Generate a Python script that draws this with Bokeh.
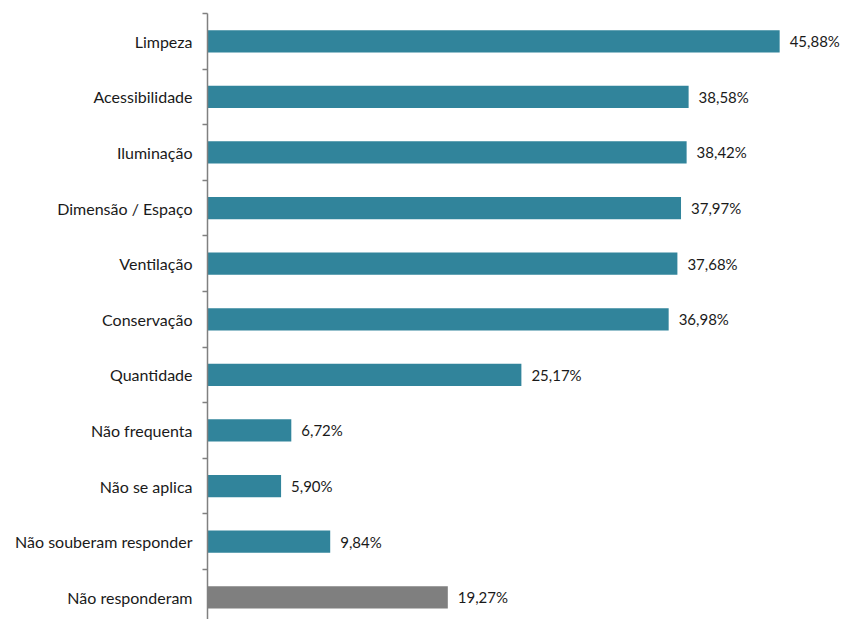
from bokeh.plotting import figure
from bokeh.models import ColumnDataSource, Range1d, FixedTicker, LabelSet
from bokeh.core.properties import value
from bokeh.embed import file_html
from bokeh.resources import INLINE

categories = ["Limpeza", "Acessibilidade", "Iluminação", "Dimensão / Espaço", "Ventilação",
              "Conservação", "Quantidade", "Não frequenta", "Não se aplica",
              "Não souberam responder", "Não responderam"]
values = [45.88, 38.58, 38.42, 37.97, 37.68, 36.98, 25.17, 6.72, 5.90, 9.84, 19.27]
colors = ["#31849B"] * 10 + ["#7F7F7F"]

pos = list(range(len(categories)))
labels = [f"{v:.2f}".replace(".", ",") + "%" for v in values]

src = ColumnDataSource(dict(y=pos, v=values, c=colors, lab=labels))

W, H = 845, 619
p = figure(width=W, height=H, output_backend="svg", toolbar_location=None,
           x_range=Range1d(0, 51.16), y_range=Range1d(10.4, -0.5),
           min_border_left=207, min_border_right=0, min_border_top=13, min_border_bottom=0)
p.outline_line_color = None
p.xgrid.visible = False
p.ygrid.visible = False
p.xaxis.visible = False

p.hbar(y="y", right="v", left=0, height=0.4, color="c", line_color=None, source=src)

p.add_layout(LabelSet(x="v", y="y", text="lab", source=src, x_offset=10, y_offset=0,
                      text_baseline="middle", text_font=value("Lato"), text_font_size="15px",
                      text_color="#1a1a1a"))

ax = p.yaxis[0]
ax.ticker = FixedTicker(ticks=pos, minor_ticks=[i - 0.5 for i in range(len(categories))])
ax.major_label_overrides = {i: c for i, c in enumerate(categories)}
ax.major_tick_out = 0
ax.major_tick_in = 0
ax.minor_tick_out = 5
ax.minor_tick_in = 0
ax.minor_tick_line_color = "#808080"
ax.axis_line_color = "#808080"
ax.axis_line_width = 1.5
ax.minor_tick_line_width = 1.5
ax.major_label_standoff = 10
ax.major_label_text_font = "Lato"
ax.major_label_text_font_size = "16px"
ax.major_label_text_color = "#1a1a1a"

open("out.html", "w").write(file_html(p, INLINE))
